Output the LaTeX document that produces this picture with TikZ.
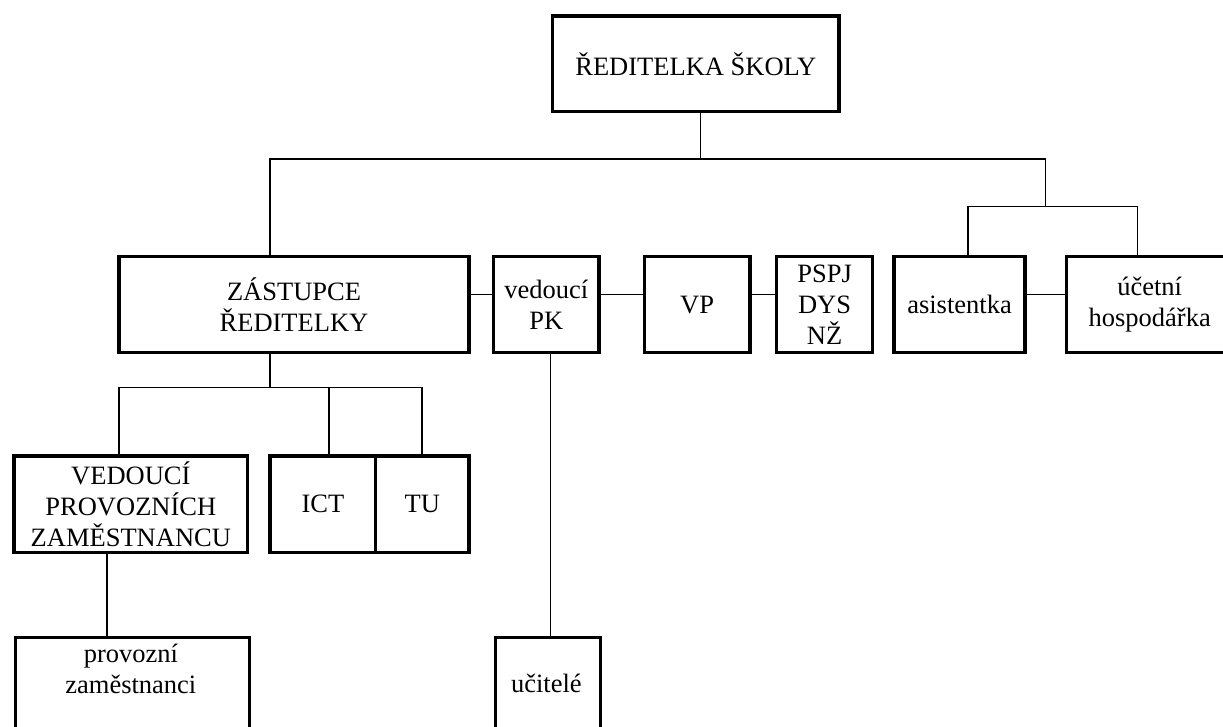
\documentclass[tikz,border=0pt]{standalone}
\usepackage{fontspec}
\setmainfont{Liberation Serif}
\begin{document}
\begin{tikzpicture}[x=1pt,y=-1pt,
  box/.style={draw=black, line width=3.3pt, inner sep=0pt, align=center, font=\fontsize{26.5}{30.8}\selectfont},
  lbl/.style={inner sep=0pt, align=center, font=\fontsize{26.5}{30.8}\selectfont},
  conn/.style={draw=black, line width=1.5pt}]
\useasboundingbox (0,0) rectangle (1223,727);
\clip (0,0) rectangle (1223,727);
\fill[white] (0,0) rectangle (1223,727);

% top
\node[box, minimum width=286.3pt, minimum height=95.7pt] (root) at (695.85,63.85) {ŘEDITELKA ŠKOLY};

% row 2
\node[box, minimum width=350pt, minimum height=96pt] (zast) at (294,304.7) {ZÁSTUPCE\\ŘEDITELKY};
\node[box, minimum width=105.3pt, minimum height=96pt] (pk) at (546.35,304.7) {vedoucí\\PK};
\node[box, minimum width=105.7pt, minimum height=96pt] (vp) at (697.15,304.7) {VP};
\node[box, minimum width=95.8pt, minimum height=96pt] (pspj) at (824.6,304.7) {PSPJ\\DYS\\NŽ};
\node[box, minimum width=131pt, minimum height=96pt] (asist) at (959.5,304.7) {asistentka};
\node[box, minimum width=166pt, minimum height=96pt] (ucet) at (1149.7,304.7) {účetní\\hospodářka};

% row 3
\node[box, minimum width=233.7pt, minimum height=96.7pt] (ved) at (130.85,504.35) {VEDOUCÍ\\PROVOZNÍCH\\ZAMĚSTNANCU};
\node[box, minimum width=105.7pt, minimum height=96.7pt] (ict) at (322.85,504.35) {ICT};
\node[box, minimum width=93.3pt, minimum height=96.7pt] (tu) at (422.35,504.35) {TU};

% row 4 (boxes run off the page)
\node[box, minimum width=233.7pt, minimum height=130pt, anchor=north west] (prov) at (14,636) {};
\node[box, minimum width=105.3pt, minimum height=130pt, anchor=north west] (ucit) at (493.7,636) {};
\node[lbl] (provt) at (130.85,669) {provozní\\zaměstnanci};
\node[lbl, anchor=base] (ucitt) at (546.35,692) {učitelé};

% connector coordinates
\coordinate (j1) at (700.7,159);
\coordinate (jl) at (270,159);
\coordinate (jr) at (1045.7,159);
\coordinate (j2) at (1045.7,206.7);
\coordinate (j2l) at (968,206.7);
\coordinate (j2r) at (1137.7,206.7);
\coordinate (hy) at (0,294.7);
\coordinate (pkx) at (550.7,0);
\coordinate (j3) at (270,387.7);
\coordinate (j3l) at (119,387.7);
\coordinate (j3m) at (329,387.7);
\coordinate (j3r) at (422,387.7);
\coordinate (vx) at (107,0);

\draw[conn] (j1 |- root.south) -- (j1);
\draw[conn] (jl |- zast.north) -- (jl) -- (jr) -- (j2);
\draw[conn] (asist.north -| j2l) -- (j2l) -- (j2r) -- (ucet.north -| j2r);

\draw[conn] (zast.east |- hy) -- (pk.west |- hy);
\draw[conn] (pk.east |- hy) -- (vp.west |- hy);
\draw[conn] (vp.east |- hy) -- (pspj.west |- hy);
\draw[conn] (asist.east |- hy) -- (ucet.west |- hy);

\draw[conn] (pkx |- pk.south) -- (pkx |- ucit.north);

\draw[conn] (j3 |- zast.south) -- (j3);
\draw[conn] (ved.north -| j3l) -- (j3l) -- (j3r) -- (tu.north -| j3r);
\draw[conn] (j3m) -- (j3m |- ict.north);
\draw[conn] (vx |- ved.south) -- (vx |- prov.north);
\end{tikzpicture}
\end{document}
